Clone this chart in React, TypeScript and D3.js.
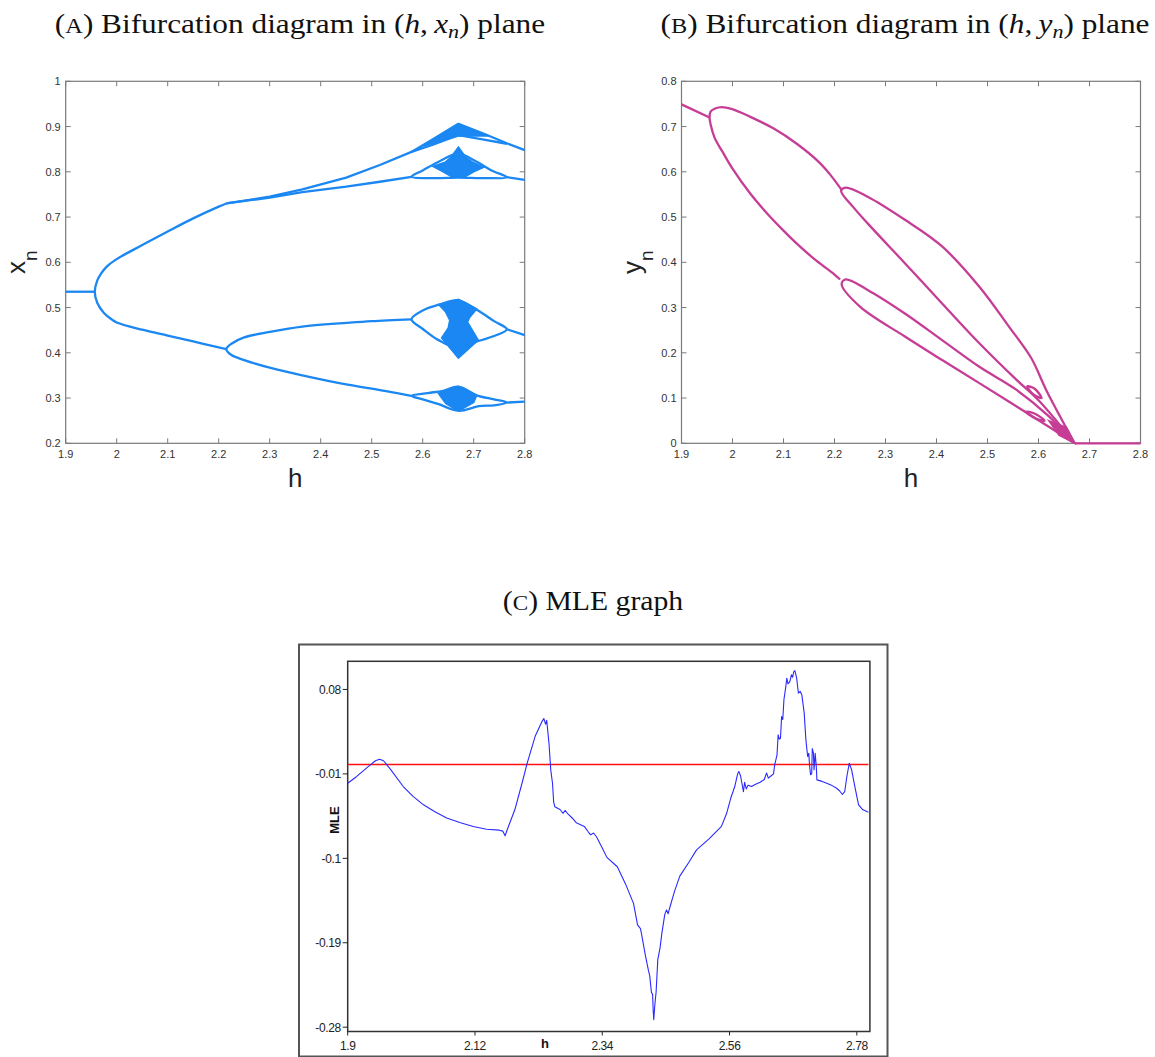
import React from 'react';
import * as d3 from 'd3';

type Pt = [number, number];

// shared h axis
const hTicks = [1.9, 2, 2.1, 2.2, 2.3, 2.4, 2.5, 2.6, 2.7, 2.8];
const xnTicks = [0.2, 0.3, 0.4, 0.5, 0.6, 0.7, 0.8, 0.9, 1];
const ynTicks = [0, 0.1, 0.2, 0.3, 0.4, 0.5, 0.6, 0.7, 0.8];

// (A) x_n branches
const xnStable: Pt[] = [[1.9, 0.535], [1.957, 0.535]];
const xnPeriod2: Pt[] = [
  [2.215, 0.730], [2.2, 0.723], [2.15, 0.697], [2.1, 0.668], [2.05, 0.638], [2.0, 0.607],
  [1.98, 0.59], [1.97, 0.576], [1.962, 0.56], [1.957, 0.535], [1.962, 0.51], [1.975, 0.488],
  [1.99, 0.474], [2.0, 0.467], [2.05, 0.451], [2.1, 0.438], [2.15, 0.425], [2.2, 0.412], [2.215, 0.408],
];
const xnTopOuter: Pt[] = [
  [2.215, 0.730], [2.3, 0.745], [2.364, 0.761], [2.45, 0.787], [2.516, 0.815], [2.578, 0.844],
  [2.62, 0.872], [2.67, 0.906], [2.72, 0.884], [2.765, 0.863], [2.8, 0.848],
];
const xnTopInner: Pt[] = [[2.578, 0.844], [2.62, 0.860], [2.67, 0.881], [2.72, 0.871], [2.765, 0.862]];
const xnSecond: Pt[] = [[2.215, 0.730], [2.3, 0.743], [2.364, 0.755], [2.45, 0.767], [2.516, 0.778], [2.578, 0.789]];
const xnLowerPair: Pt[] = [
  [2.578, 0.474], [2.5, 0.470], [2.45, 0.466], [2.364, 0.458], [2.3, 0.446], [2.25, 0.434],
  [2.225, 0.42], [2.215, 0.408], [2.225, 0.395], [2.25, 0.384], [2.3, 0.367], [2.364, 0.350],
  [2.45, 0.330], [2.5, 0.321], [2.578, 0.305],
];
const xnTail2: Pt[] = [[2.765, 0.788], [2.8, 0.782]];
const xnTail3: Pt[] = [[2.765, 0.452], [2.8, 0.439]];
const xnTail4: Pt[] = [[2.765, 0.290], [2.8, 0.292]];

const xnLoop2: Pt[] = [
  [2.578, 0.789], [2.60, 0.803], [2.634, 0.824], [2.67, 0.84], [2.706, 0.822], [2.735, 0.803],
  [2.765, 0.788], [2.72, 0.786], [2.67, 0.787], [2.62, 0.786],
];
const xnLoop3: Pt[] = [
  [2.578, 0.474], [2.601, 0.494], [2.634, 0.507], [2.67, 0.516], [2.706, 0.495], [2.74, 0.470],
  [2.765, 0.452], [2.74, 0.437], [2.709, 0.426], [2.67, 0.41], [2.631, 0.428], [2.601, 0.452],
];
const xnLoop4: Pt[] = [
  [2.578, 0.305], [2.61, 0.311], [2.64, 0.316], [2.67, 0.325], [2.706, 0.306], [2.74, 0.297],
  [2.765, 0.290], [2.74, 0.284], [2.71, 0.282], [2.67, 0.272], [2.63, 0.287], [2.60, 0.297],
];

// chaotic bands
const xnBand1: Pt[] = [[2.6, 0.857], [2.67, 0.906], [2.73, 0.879], [2.67, 0.879]];
const xnBand2: Pt[] = [
  [2.62, 0.812], [2.645, 0.822], [2.655, 0.832], [2.670, 0.855], [2.685, 0.832], [2.697, 0.822],
  [2.72, 0.810], [2.70, 0.800], [2.685, 0.790], [2.655, 0.790], [2.64, 0.800],
];
const xnBand3: Pt[] = [
  [2.631, 0.507], [2.670, 0.518], [2.706, 0.497], [2.692, 0.478], [2.688, 0.468], [2.70, 0.445],
  [2.709, 0.428], [2.67, 0.388], [2.637, 0.433], [2.65, 0.455], [2.653, 0.472], [2.645, 0.49],
];
const xnBand4: Pt[] = [[2.631, 0.310], [2.670, 0.326], [2.706, 0.306], [2.70, 0.29], [2.67, 0.271], [2.645, 0.288]];

// (B) y_n branches
const ynStable: Pt[] = [[1.9, 0.749], [1.955, 0.720]];
const ynPeriod2: Pt[] = [
  [2.214, 0.560], [2.19, 0.596], [2.17, 0.621], [2.126, 0.662], [2.080, 0.696], [2.034, 0.722],
  [1.998, 0.739], [1.979, 0.743], [1.966, 0.740], [1.957, 0.733], [1.955, 0.720], [1.957, 0.705],
  [1.965, 0.675], [1.98, 0.645], [2.0, 0.607], [2.034, 0.553], [2.067, 0.509], [2.1, 0.470],
  [2.132, 0.435], [2.165, 0.403], [2.2, 0.373], [2.211, 0.362],
];
const ynLoopUpper: Pt[] = [
  [2.671, 0.0], [2.615, 0.118], [2.586, 0.188], [2.542, 0.258], [2.484, 0.346], [2.411, 0.435],
  [2.338, 0.494], [2.265, 0.545], [2.222, 0.565], [2.213, 0.558], [2.236, 0.523], [2.265, 0.486],
  [2.338, 0.398], [2.411, 0.309], [2.484, 0.221], [2.557, 0.140], [2.6, 0.095], [2.671, 0.0],
];
const ynLoopLower: Pt[] = [
  [2.671, 0.0], [2.62, 0.06], [2.557, 0.118], [2.484, 0.169], [2.411, 0.228], [2.338, 0.287],
  [2.265, 0.339], [2.222, 0.362], [2.214, 0.352], [2.25, 0.302], [2.338, 0.236], [2.411, 0.184],
  [2.484, 0.133], [2.579, 0.066], [2.671, 0.0],
];
const ynSmall1: Pt[] = [[2.578, 0.126], [2.592, 0.121], [2.606, 0.100], [2.59, 0.108]];
const ynSmall2: Pt[] = [[2.575, 0.070], [2.592, 0.066], [2.612, 0.050], [2.596, 0.054]];
const ynBand: Pt[] = [[2.62, 0.05], [2.655, 0.035], [2.671, 0.0], [2.64, 0.018]];
const ynZero: Pt[] = [[2.671, 0], [2.8, 0]];

// (C) MLE
const mleTicksH = [1.9, 2.12, 2.34, 2.56, 2.78];
const mleTicksV = [0.08, -0.01, -0.1, -0.19, -0.28];
const mleThreshold = 0;
const mleSeries: Pt[] = [
  [1.9, -0.020], [1.915, -0.013], [1.936, -0.002], [1.948, 0.004], [1.955, 0.0057], [1.962, 0.004],
  [1.975, -0.006], [1.996, -0.0235], [2.013, -0.034], [2.031, -0.043], [2.05, -0.050], [2.071, -0.057],
  [2.095, -0.062], [2.117, -0.066], [2.14, -0.069], [2.162, -0.070], [2.168, -0.071], [2.172, -0.076],
  [2.176, -0.069], [2.189, -0.048], [2.203, -0.016], [2.210, 0.001], [2.224, 0.030], [2.236, 0.046],
  [2.239, 0.049], [2.242, 0.043], [2.244, 0.047], [2.248, 0.022], [2.251, -0.006], [2.254, -0.02],
  [2.256, -0.040], [2.258, -0.045], [2.267, -0.048], [2.272, -0.052], [2.276, -0.049], [2.281, -0.053],
  [2.288, -0.057], [2.295, -0.062], [2.309, -0.066], [2.316, -0.072], [2.320, -0.075], [2.325, -0.073],
  [2.330, -0.077], [2.340, -0.089], [2.348, -0.099], [2.366, -0.109], [2.380, -0.127], [2.394, -0.148],
  [2.401, -0.171], [2.406, -0.175], [2.408, -0.181], [2.415, -0.205], [2.420, -0.220], [2.422, -0.225],
  [2.425, -0.243], [2.427, -0.245], [2.428, -0.262], [2.429, -0.272], [2.431, -0.255], [2.433, -0.243],
  [2.436, -0.208], [2.440, -0.195], [2.443, -0.180], [2.448, -0.160], [2.451, -0.155], [2.454, -0.159],
  [2.456, -0.154], [2.465, -0.135], [2.474, -0.119], [2.49, -0.104], [2.503, -0.091], [2.525, -0.079],
  [2.546, -0.066], [2.555, -0.052], [2.562, -0.036], [2.569, -0.0235], [2.574, -0.010], [2.576, -0.0075],
  [2.579, -0.012], [2.584, -0.029], [2.586, -0.019], [2.589, -0.026], [2.592, -0.022], [2.598, -0.0235],
  [2.605, -0.021], [2.613, -0.019], [2.62, -0.016], [2.624, -0.009], [2.627, -0.0146], [2.632, -0.012],
  [2.636, -0.010], [2.638, -0.0004], [2.642, 0.010], [2.644, 0.0316], [2.646, 0.027], [2.648, 0.028],
  [2.650, 0.051], [2.652, 0.048], [2.654, 0.069], [2.657, 0.082], [2.659, 0.092], [2.661, 0.086],
  [2.664, 0.088], [2.667, 0.0956], [2.669, 0.093], [2.671, 0.099], [2.673, 0.100], [2.676, 0.092],
  [2.679, 0.076], [2.682, 0.078], [2.685, 0.074], [2.689, 0.055], [2.692, 0.026], [2.695, 0.0085],
  [2.697, 0.012], [2.698, 0.0014], [2.700, -0.011], [2.702, -0.010], [2.703, 0.017], [2.705, 0.012],
  [2.706, -0.0057], [2.708, 0.012], [2.710, -0.003], [2.711, -0.0164], [2.72, -0.018], [2.728, -0.020],
  [2.736, -0.022], [2.745, -0.0253], [2.75, -0.028], [2.755, -0.032], [2.759, -0.029], [2.763, -0.012],
  [2.767, 0.0014], [2.771, -0.0057], [2.777, -0.025], [2.783, -0.043], [2.79, -0.048], [2.8, -0.051],
];

const SANS = 'Liberation Sans, Arial, Helvetica, sans-serif';
const SERIF = 'Liberation Serif, Times New Roman, serif';

type BifProps = {
  left: number;
  top: number;
  yDomain: [number, number];
  yTicks: number[];
  color: string;
  letter: string;
  open: Pt[][];
  curved: Pt[][];
  loops: Pt[][];
  bands: Pt[][];
};

function BifurcationPanel({ left, top, yDomain, yTicks, color, letter, open, curved, loops, bands }: BifProps) {
  const w = 459;
  const h = 362;
  const x = d3.scaleLinear().domain([1.9, 2.8]).range([left, left + w]);
  const y = d3.scaleLinear().domain(yDomain).range([top + h, top]);
  const straight = d3.line<Pt>().x(d => x(d[0])).y(d => y(d[1]));
  const smooth = d3.line<Pt>().x(d => x(d[0])).y(d => y(d[1])).curve(d3.curveCatmullRom.alpha(0.5));
  const closed = d3.line<Pt>().x(d => x(d[0])).y(d => y(d[1])).curve(d3.curveCatmullRomClosed.alpha(0.5));
  const poly = d3.line<Pt>().x(d => x(d[0])).y(d => y(d[1])).curve(d3.curveLinearClosed);
  const axis = '#7a7a7a';
  const tl = 5;
  return (
    <g>
      <rect x={left} y={top} width={w} height={h} fill="none" stroke={axis} strokeWidth={1.2} />
      {hTicks.map(t => (
        <g key={'h' + t}>
          <line x1={x(t)} x2={x(t)} y1={top + h} y2={top + h - tl} stroke={axis} />
          <line x1={x(t)} x2={x(t)} y1={top} y2={top + tl} stroke={axis} />
          <text x={x(t)} y={top + h + 15} textAnchor="middle" fontFamily={SANS} fontSize={11} fill="#333">
            {String(t)}
          </text>
        </g>
      ))}
      {yTicks.map(t => (
        <g key={'v' + t}>
          <line x1={left} x2={left + tl} y1={y(t)} y2={y(t)} stroke={axis} />
          <line x1={left + w} x2={left + w - tl} y1={y(t)} y2={y(t)} stroke={axis} />
          <text x={left - 5} y={y(t) + 4} textAnchor="end" fontFamily={SANS} fontSize={11} fill="#333">
            {String(t)}
          </text>
        </g>
      ))}
      <text x={left + w / 2} y={top + h + 44} textAnchor="middle" fontFamily={SANS} fontSize={26} fill="#222">h</text>
      <text
        transform={`translate(${left - 41},${top + h / 2}) rotate(-90)`}
        textAnchor="middle"
        fontFamily={SANS}
        fontSize={26}
        fill="#222"
      >
        {letter}
        <tspan fontSize={19} dy={12}>n</tspan>
      </text>
      {bands.map((b, i) => (
        <path key={'b' + i} d={poly(b) || ''} fill={color} stroke={color} strokeWidth={1.5} />
      ))}
      {open.map((p, i) => (
        <path key={'o' + i} d={straight(p) || ''} fill="none" stroke={color} strokeWidth={2.3} strokeLinejoin="round" />
      ))}
      {curved.map((p, i) => (
        <path key={'c' + i} d={smooth(p) || ''} fill="none" stroke={color} strokeWidth={2.3} />
      ))}
      {loops.map((p, i) => (
        <path key={'l' + i} d={closed(p) || ''} fill="none" stroke={color} strokeWidth={2.3} />
      ))}
    </g>
  );
}

function MlePanel() {
  const x = d3.scaleLinear().domain([1.9, 2.8]).range([347.7, 868.4]);
  const y = d3.scaleLinear().domain([-0.2846, 0.11]).range([1031.5, 661.3]);
  const line = d3.line<Pt>().x(d => x(d[0])).y(d => y(d[1]));
  const [x0, x1] = x.range();
  const [yb, yt] = y.range();
  return (
    <g>
      <rect x={299} y={644.5} width={588.5} height={412} fill="none" stroke="#555" strokeWidth={2} />
      <rect x={x0} y={yt} width={x1 - x0 + 1.5} height={yb - yt} fill="none" stroke="#333" strokeWidth={1.5} />
      <line x1={x0} x2={x1} y1={y(mleThreshold)} y2={y(mleThreshold)} stroke="#ff1010" strokeWidth={1.3} />
      <path d={line(mleSeries) || ''} fill="none" stroke="#2a2aff" strokeWidth={1.1} strokeLinejoin="round" />
      {mleTicksV.map(t => (
        <g key={'mv' + t}>
          <line x1={x0 - 5} x2={x0} y1={y(t)} y2={y(t)} stroke="#222" />
          <text x={x0 - 7} y={y(t) + 4.5} textAnchor="end" fontFamily={SANS} fontSize={12} fill="#222" letterSpacing={-0.4}>
            {String(t)}
          </text>
        </g>
      ))}
      {mleTicksH.map(t => (
        <g key={'mh' + t}>
          <line x1={x(t)} x2={x(t)} y1={yb} y2={yb + 4} stroke="#222" />
          <text x={x(t)} y={yb + 18} textAnchor="middle" fontFamily={SANS} fontSize={12} fill="#222" letterSpacing={-0.4}>
            {String(t)}
          </text>
        </g>
      ))}
      <text x={545} y={yb + 16} textAnchor="middle" fontFamily={SANS} fontSize={13} fontWeight="bold" fill="#111">h</text>
      <text
        transform={`translate(339,820) rotate(-90)`}
        textAnchor="middle"
        fontFamily={SANS}
        fontSize={13}
        fontWeight="bold"
        fill="#111"
      >
        MLE
      </text>
    </g>
  );
}

function Title({ x, y, letter, v }: { x: number; y: number; letter: string; v: string }) {
  return (
    <g transform={`translate(${x},${y}) scale(1.16,1)`}>
      <text x={0} y={0} textAnchor="middle" fontFamily={SERIF} fontSize={27} fill="#111">
        (<tspan fontSize={21}>{letter}</tspan>) Bifurcation diagram in (<tspan fontStyle="italic">h</tspan>,{'\u2009'}
        <tspan fontStyle="italic">{v}</tspan>
        <tspan fontStyle="italic" fontSize={19} dy={5}>n</tspan>
        <tspan dy={-5}>) plane</tspan>
      </text>
    </g>
  );
}

export default function App() {
  return (
    <svg width={1155} height={1057} style={{ position: 'absolute', left: 0, top: 0, background: '#fff' }}>
      <Title x={300} y={33} letter="A" v="x" />
      <Title x={905} y={33} letter="B" v="y" />
      <BifurcationPanel
        left={65.7}
        top={81.3}
        yDomain={[0.2, 1]}
        yTicks={xnTicks}
        color="#1a87f2"
        letter="x"
        open={[xnStable, xnTopOuter, xnTopInner, xnSecond, xnTail2, xnTail3, xnTail4]}
        curved={[xnPeriod2, xnLowerPair]}
        loops={[xnLoop2, xnLoop3, xnLoop4]}
        bands={[xnBand1, xnBand2, xnBand3, xnBand4]}
      />
      <BifurcationPanel
        left={681.5}
        top={81.3}
        yDomain={[0, 0.8]}
        yTicks={ynTicks}
        color="#c63d96"
        letter="y"
        open={[ynStable, ynZero]}
        curved={[ynPeriod2, ynLoopUpper, ynLoopLower]}
        loops={[ynSmall1, ynSmall2]}
        bands={[ynBand]}
      />
      <g transform="translate(593,610) scale(1.1,1)">
        <text x={0} y={0} textAnchor="middle" fontFamily={SERIF} fontSize={27} fill="#111">
          (<tspan fontSize={21}>C</tspan>) MLE graph
        </text>
      </g>
      <MlePanel />
    </svg>
  );
}
